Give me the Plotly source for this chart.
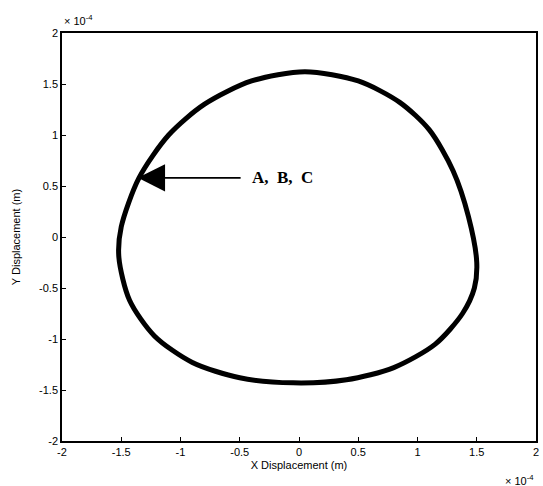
import plotly.graph_objects as go

# Orbit of the shaft centre, displacements in units of 1e-4 m
x_disp = [0.05, 0.5, 0.85, 1.1, 1.3, 1.43, 1.5, 1.48, 1.38, 1.15, 0.8, 0.4, -0.05,
          -0.5, -0.9, -1.22, -1.43, -1.52, -1.5, -1.35, -1.1, -0.8, -0.4, 0.05]
y_disp = [1.62, 1.53, 1.32, 1.05, 0.65, 0.2, -0.25, -0.5, -0.75, -1.05, -1.28, -1.4, -1.43,
          -1.38, -1.23, -0.97, -0.62, -0.2, 0.1, 0.58, 1.0, 1.3, 1.53, 1.62]

tick_vals = [-2, -1.5, -1, -0.5, 0, 0.5, 1, 1.5, 2]
tick_text = ["-2", "-1.5", "-1", "-0.5", "0", "0.5", "1", "1.5", "2"]

# Point marked by the arrow and where the label sits
mark_x, mark_y = -1.36, 0.58
tail_x = -0.48
label_x = -0.41
label_text = "A,\u00a0\u00a0B,\u00a0\u00a0C"

font = dict(family="Liberation Sans, Arial, sans-serif", size=11, color="black")

fig = go.Figure()
fig.add_trace(go.Scatter(
    x=x_disp, y=y_disp, mode="lines",
    line=dict(color="black", width=5, shape="spline", smoothing=0.8),
    showlegend=False, hoverinfo="skip",
))

axis_common = dict(
    range=[-2, 2], tickvals=tick_vals, ticktext=tick_text,
    showgrid=False, zeroline=False, showline=True, linecolor="black", linewidth=1.5,
    mirror=True, ticks="inside", ticklen=4, tickcolor="black", tickfont=font,
)
fig.update_xaxes(**axis_common, title=dict(text="X Displacement (m)", font=font, standoff=4))
fig.update_yaxes(**axis_common, title=dict(text="Y Displacement (m)", font=font, standoff=16))

fig.add_annotation(
    x=mark_x, y=mark_y, ax=tail_x, ay=mark_y, axref="x", ayref="y",
    xref="x", yref="y", text="", showarrow=True,
    arrowhead=2, arrowsize=3.4, arrowwidth=1.6, arrowcolor="black",
)
fig.add_annotation(
    x=label_x, y=mark_y, xref="x", yref="y", text="<b>" + label_text + "</b>", showarrow=False,
    xanchor="left", yanchor="middle",
    font=dict(family="Liberation Serif, Times New Roman, serif", size=17, color="black"),
)
fig.add_annotation(
    x=0, y=1, xref="paper", yref="paper", xanchor="left", yanchor="bottom", yshift=4,
    text="× 10<sup>-4</sup>", showarrow=False, font=font,
)
fig.add_annotation(
    x=1, y=0, xref="paper", yref="paper", xanchor="right", yanchor="top", yshift=-30,
    text="× 10<sup>-4</sup>", showarrow=False, font=font,
)

fig.update_layout(
    width=543, height=486,
    margin=dict(l=62, r=4, t=33, b=45),
    paper_bgcolor="white", plot_bgcolor="white",
)

fig.write_html("out.html")
